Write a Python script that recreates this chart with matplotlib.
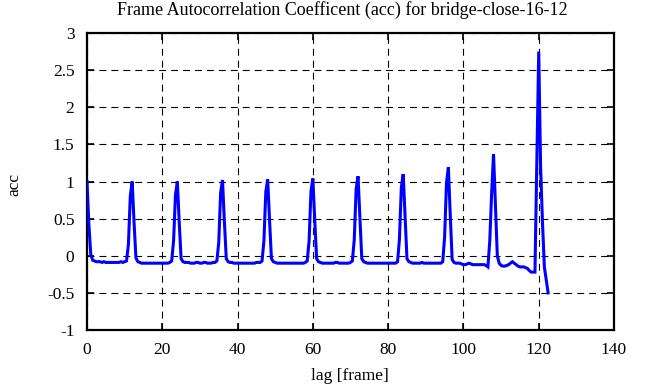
import numpy as np
import matplotlib
matplotlib.use("Agg")
import matplotlib.pyplot as plt

plt.rcParams['font.family'] = ['Liberation Serif', 'DejaVu Serif']
plt.rcParams['lines.scale_dashes'] = False

title = "Frame Autocorrelation Coefficent (acc) for bridge-close-16-12"
x_label = "lag [frame]"
y_label = "acc"
x_ticks = [0, 20, 40, 60, 80, 100, 120, 140]
y_ticks = [-1, -0.5, 0, 0.5, 1, 1.5, 2, 2.5, 3]
y_tick_labels = ["-1", "-0.5", "0", "0.5", "1", "1.5", "2", "2.5", "3"]

# acc values at half-frame lag steps, 0 .. 122.5
acc_0_12 = [1.00, 0.42, 0.02, -0.06, -0.07, -0.08, -0.08, -0.08, -0.09, -0.08, -0.09, -0.09,
            -0.09, -0.09, -0.09, -0.09, -0.09, -0.09, -0.08, -0.09, -0.08, -0.07, 0.15, 0.80]
acc_12_24 = [1.00, 0.45, -0.03, -0.08, -0.09, -0.10, -0.10, -0.10, -0.10, -0.10, -0.10, -0.10,
             -0.10, -0.10, -0.10, -0.10, -0.10, -0.10, -0.10, -0.10, -0.09, -0.07, 0.20, 0.82]
acc_24_36 = [1.00, 0.45, -0.04, -0.08, -0.09, -0.09, -0.09, -0.10, -0.10, -0.10, -0.09, -0.09,
             -0.10, -0.10, -0.09, -0.09, -0.10, -0.10, -0.10, -0.09, -0.09, -0.07, 0.18, 0.85]
acc_36_48 = [1.02, 0.46, -0.04, -0.08, -0.09, -0.09, -0.10, -0.10, -0.10, -0.10, -0.10, -0.10,
             -0.10, -0.10, -0.10, -0.10, -0.10, -0.10, -0.09, -0.09, -0.09, -0.07, 0.20, 0.86]
acc_48_60 = [1.03, 0.47, -0.04, -0.08, -0.09, -0.10, -0.10, -0.10, -0.10, -0.10, -0.10, -0.10,
             -0.10, -0.10, -0.10, -0.10, -0.10, -0.10, -0.10, -0.10, -0.09, -0.07, 0.20, 0.87]
acc_60_72 = [1.04, 0.48, -0.04, -0.08, -0.09, -0.10, -0.10, -0.10, -0.10, -0.10, -0.10, -0.10,
             -0.09, -0.09, -0.10, -0.10, -0.10, -0.10, -0.10, -0.10, -0.09, -0.07, 0.22, 0.90]
acc_72_84 = [1.07, 0.50, -0.04, -0.08, -0.09, -0.10, -0.10, -0.10, -0.10, -0.10, -0.10, -0.10,
             -0.10, -0.10, -0.10, -0.10, -0.10, -0.10, -0.10, -0.10, -0.10, -0.08, 0.22, 0.92]
acc_84_96 = [1.10, 0.52, -0.04, -0.08, -0.09, -0.10, -0.10, -0.10, -0.10, -0.10, -0.09, -0.10,
             -0.10, -0.10, -0.10, -0.10, -0.10, -0.10, -0.10, -0.10, -0.10, -0.08, 0.25, 0.98]
acc_96_108 = [1.19, 0.55, -0.05, -0.09, -0.10, -0.10, -0.10, -0.11, -0.12, -0.12, -0.11, -0.10,
              -0.11, -0.12, -0.12, -0.12, -0.12, -0.12, -0.12, -0.12, -0.13, -0.15, 0.20, 0.85]
acc_108_123 = [1.37, 0.70, 0.00, -0.10, -0.13, -0.14, -0.14, -0.13, -0.12, -0.10, -0.08, -0.10,
               -0.12, -0.14, -0.15, -0.15, -0.15, -0.16, -0.17, -0.20, -0.22, -0.22, -0.22, 1.25,
               2.75, 1.20, 0.45, -0.15, -0.32, -0.50]

acc = (acc_0_12 + acc_12_24 + acc_24_36 + acc_36_48 + acc_48_60 + acc_60_72
       + acc_72_84 + acc_84_96 + acc_96_108 + acc_108_123)
lag = np.arange(len(acc)) * 0.5

W, H = 666, 387
fig = plt.figure(figsize=(W / 100, H / 100), dpi=100)
ax = fig.add_axes([87 / W, 1 - 330 / H, (614 - 87) / W, (330 - 33) / H])

ax.plot(lag, acc, color='#0000ff', linewidth=2.2, solid_joinstyle='miter', zorder=3)

ax.set_xlim(0, 140)
ax.set_ylim(-1, 3)
ax.set_xticks(x_ticks)
ax.set_yticks(y_ticks)
ax.set_yticklabels(y_tick_labels)
ax.grid(True, color='black', linewidth=0.8, linestyle=(0, (5, 3.6)))
ax.set_axisbelow(True)

for s in ax.spines.values():
    s.set_linewidth(1.6)
ax.tick_params(direction='in', length=5, width=1.2, top=True, right=True,
               labelsize=12.5, colors='black')
ax.tick_params(axis='x', pad=9)
ax.tick_params(axis='y', pad=9)

fig.text(342 / W, 1 - 10 / H, title, fontsize=13, ha='center', va='center')
fig.text(350 / W, 1 - 376 / H, x_label, fontsize=12.5, ha='center', va='center')
fig.text(14 / W, 1 - 185 / H, y_label, fontsize=12.5, ha='center', va='center', rotation=90)

fig.savefig("out.png", dpi=100)
